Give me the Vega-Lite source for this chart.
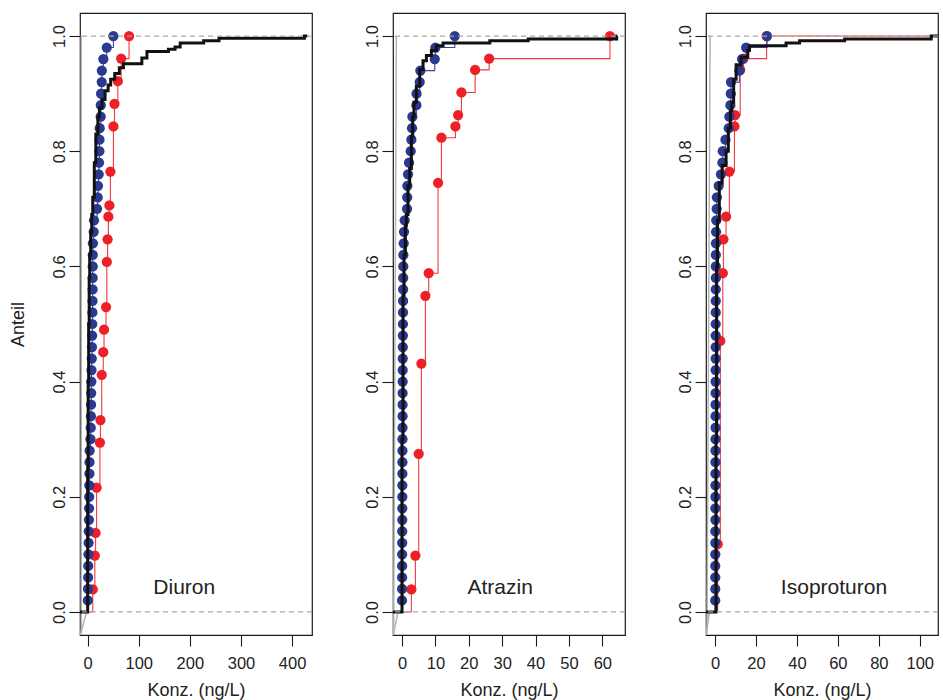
{
"$schema": "https://vega.github.io/schema/vega-lite/v6.json",
"background": "white",
"padding": {"top": 12, "left": 8, "right": 0, "bottom": 0},
"spacing": 49,
"config": {
  "font": "Liberation Sans",
  "view": {"stroke": "#1a1a1a", "strokeWidth": 1.2},
  "axis": {"grid": false, "domain": false, "tickSize": 11, "tickColor": "#1a1a1a", "tickWidth": 1.1,
    "labelFont": "Liberation Sans", "labelFontSize": 16.5, "labelColor": "#222",
    "titleFont": "Liberation Sans", "titleFontSize": 18, "titleFontWeight": "normal", "titleColor": "#222",
    "labelFlush": false, "labelOverlap": false, "labelBound": false},
  "axisX": {"labelPadding": 9, "titlePadding": 10, "labelOverlap": false},
  "axisY": {"labelAngle": -90, "labelAlign": "center", "labelBaseline": "alphabetic", "labelPadding": 5, "titlePadding": 10, "labelOverlap": false}
},
"datasets": {
"g1": [{"x":-12.5,"y":-0.04,"g":"a","o":1},{"x":-12.5,"y":1.0,"g":"a","o":2},{"x":-14.5,"y":-0.04,"g":"b","o":1},{"x":-2,"y":0,"g":"b","o":2}],
"g2": [{"x":-2.5,"y":-0.04,"g":"a","o":1},{"x":-1.7,"y":1.0,"g":"a","o":2},{"x":-2.6,"y":-0.04,"g":"b","o":1},{"x":-1.2,"y":0,"g":"b","o":2}],
"g3": [{"x":-3.9,"y":-0.04,"g":"a","o":1},{"x":-2.4,"y":1.0,"g":"a","o":2},{"x":-4.3,"y":-0.04,"g":"b","o":1},{"x":-2.7,"y":0,"g":"b","o":2}],
"k1": [{"x":-15,"y":0},{"x":0,"y":0.25},{"x":1,"y":0.4},{"x":2,"y":0.5},{"x":3,"y":0.58},{"x":4,"y":0.62},{"x":6,"y":0.66},{"x":8,"y":0.69},{"x":10,"y":0.72},{"x":13,"y":0.78},{"x":16,"y":0.83},{"x":20,"y":0.86},{"x":23,"y":0.875},{"x":28,"y":0.89},{"x":34,"y":0.905},{"x":40,"y":0.915},{"x":45,"y":0.925},{"x":53,"y":0.935},{"x":62,"y":0.945},{"x":70,"y":0.952},{"x":106,"y":0.962},{"x":116,"y":0.973},{"x":158,"y":0.977},{"x":171,"y":0.981},{"x":181,"y":0.988},{"x":227,"y":0.992},{"x":257,"y":0.996},{"x":424,"y":1.0},{"x":430,"y":1.0}],
"k2": [{"x":-2.7,"y":0},{"x":0,"y":0.3},{"x":0.3,"y":0.55},{"x":0.6,"y":0.62},{"x":1.0,"y":0.67},{"x":1.3,"y":0.69},{"x":1.8,"y":0.74},{"x":2.3,"y":0.77},{"x":2.8,"y":0.826},{"x":3.2,"y":0.86},{"x":3.6,"y":0.885},{"x":4.3,"y":0.913},{"x":5.3,"y":0.942},{"x":6.3,"y":0.957},{"x":7.3,"y":0.966},{"x":8.8,"y":0.975},{"x":10.3,"y":0.983},{"x":12.3,"y":0.988},{"x":26.3,"y":0.992},{"x":37.8,"y":0.995},{"x":64.3,"y":1.0},{"x":64.5,"y":1.0}],
"k3": [{"x":-4.4,"y":0},{"x":0.5,"y":0.3},{"x":0.8,"y":0.6},{"x":1.2,"y":0.68},{"x":2.1,"y":0.745},{"x":3.5,"y":0.775},{"x":5.4,"y":0.8},{"x":6.5,"y":0.84},{"x":7.5,"y":0.87},{"x":8.2,"y":0.885},{"x":9.1,"y":0.925},{"x":10.3,"y":0.95},{"x":12.7,"y":0.963},{"x":16,"y":0.975},{"x":16.8,"y":0.983},{"x":34.7,"y":0.988},{"x":41.3,"y":0.992},{"x":63.3,"y":0.995},{"x":105.6,"y":1.0},{"x":108.9,"y":1.0}],
"b1": [{"x":-15,"y":0,"pt":0},{"x":0.3,"y":0.02,"pt":1},{"x":0.6,"y":0.04,"pt":1},{"x":0.9,"y":0.06,"pt":1},{"x":1.2,"y":0.08,"pt":1},{"x":1.5,"y":0.1,"pt":1},{"x":1.8,"y":0.12,"pt":1},{"x":2.1,"y":0.14,"pt":1},{"x":2.4,"y":0.16,"pt":1},{"x":2.7,"y":0.18,"pt":1},{"x":3.0,"y":0.2,"pt":1},{"x":3.2,"y":0.22,"pt":1},{"x":3.4,"y":0.24,"pt":1},{"x":3.6,"y":0.26,"pt":1},{"x":3.8,"y":0.28,"pt":1},{"x":5.5,"y":0.3,"pt":1},{"x":6.0,"y":0.32,"pt":1},{"x":6.3,"y":0.34,"pt":1},{"x":6.6,"y":0.36,"pt":1},{"x":6.9,"y":0.38,"pt":1},{"x":7.2,"y":0.4,"pt":1},{"x":7.5,"y":0.42,"pt":1},{"x":8.0,"y":0.44,"pt":1},{"x":8.4,"y":0.46,"pt":1},{"x":8.7,"y":0.48,"pt":1},{"x":9.0,"y":0.5,"pt":1},{"x":9.3,"y":0.52,"pt":1},{"x":9.5,"y":0.54,"pt":1},{"x":9.7,"y":0.56,"pt":1},{"x":9.8,"y":0.58,"pt":1},{"x":9.9,"y":0.6,"pt":1},{"x":10.0,"y":0.62,"pt":1},{"x":10.2,"y":0.64,"pt":1},{"x":11.8,"y":0.66,"pt":1},{"x":12.4,"y":0.68,"pt":1},{"x":18.3,"y":0.7,"pt":1},{"x":19.6,"y":0.72,"pt":1},{"x":20.2,"y":0.74,"pt":1},{"x":21.5,"y":0.76,"pt":1},{"x":22.2,"y":0.78,"pt":1},{"x":22.9,"y":0.8,"pt":1},{"x":23.1,"y":0.82,"pt":1},{"x":23.5,"y":0.84,"pt":1},{"x":25.5,"y":0.86,"pt":1},{"x":25.7,"y":0.88,"pt":1},{"x":26.2,"y":0.9,"pt":1},{"x":27.5,"y":0.92,"pt":1},{"x":27.7,"y":0.94,"pt":1},{"x":30.7,"y":0.96,"pt":1},{"x":37.3,"y":0.98,"pt":1},{"x":50.3,"y":1.0,"pt":1}],
"b2": [{"x":-2.7,"y":0,"pt":0},{"x":0.0,"y":0.02,"pt":1},{"x":0.01,"y":0.04,"pt":1},{"x":0.02,"y":0.06,"pt":1},{"x":0.03,"y":0.08,"pt":1},{"x":0.04,"y":0.1,"pt":1},{"x":0.05,"y":0.12,"pt":1},{"x":0.06,"y":0.14,"pt":1},{"x":0.07,"y":0.16,"pt":1},{"x":0.08,"y":0.18,"pt":1},{"x":0.09,"y":0.2,"pt":1},{"x":0.1,"y":0.22,"pt":1},{"x":0.11,"y":0.24,"pt":1},{"x":0.12,"y":0.26,"pt":1},{"x":0.13,"y":0.28,"pt":1},{"x":0.14,"y":0.3,"pt":1},{"x":0.15,"y":0.32,"pt":1},{"x":0.16,"y":0.34,"pt":1},{"x":0.17,"y":0.36,"pt":1},{"x":0.18,"y":0.38,"pt":1},{"x":0.19,"y":0.4,"pt":1},{"x":0.2,"y":0.42,"pt":1},{"x":0.22,"y":0.44,"pt":1},{"x":0.24,"y":0.46,"pt":1},{"x":0.26,"y":0.48,"pt":1},{"x":0.28,"y":0.5,"pt":1},{"x":0.3,"y":0.52,"pt":1},{"x":0.32,"y":0.54,"pt":1},{"x":0.34,"y":0.56,"pt":1},{"x":0.36,"y":0.58,"pt":1},{"x":0.38,"y":0.6,"pt":1},{"x":0.4,"y":0.62,"pt":1},{"x":0.5,"y":0.64,"pt":1},{"x":0.6,"y":0.66,"pt":1},{"x":0.8,"y":0.68,"pt":1},{"x":1.5,"y":0.7,"pt":1},{"x":1.55,"y":0.72,"pt":1},{"x":1.6,"y":0.74,"pt":1},{"x":1.8,"y":0.76,"pt":1},{"x":2.1,"y":0.78,"pt":1},{"x":2.6,"y":0.8,"pt":1},{"x":2.8,"y":0.82,"pt":1},{"x":3.0,"y":0.84,"pt":1},{"x":3.1,"y":0.86,"pt":1},{"x":4.3,"y":0.88,"pt":1},{"x":4.35,"y":0.9,"pt":1},{"x":5.3,"y":0.92,"pt":1},{"x":5.5,"y":0.94,"pt":1},{"x":9.8,"y":0.96,"pt":1},{"x":10.0,"y":0.98,"pt":1},{"x":15.8,"y":1.0,"pt":1}],
"b3": [{"x":-4.4,"y":0,"pt":0},{"x":0.1,"y":0.02,"pt":1},{"x":0.11,"y":0.04,"pt":1},{"x":0.12,"y":0.06,"pt":1},{"x":0.13,"y":0.08,"pt":1},{"x":0.14,"y":0.1,"pt":1},{"x":0.15,"y":0.12,"pt":1},{"x":0.16,"y":0.14,"pt":1},{"x":0.17,"y":0.16,"pt":1},{"x":0.18,"y":0.18,"pt":1},{"x":0.19,"y":0.2,"pt":1},{"x":0.2,"y":0.22,"pt":1},{"x":0.21,"y":0.24,"pt":1},{"x":0.22,"y":0.26,"pt":1},{"x":0.23,"y":0.28,"pt":1},{"x":0.24,"y":0.3,"pt":1},{"x":0.25,"y":0.32,"pt":1},{"x":0.26,"y":0.34,"pt":1},{"x":0.27,"y":0.36,"pt":1},{"x":0.28,"y":0.38,"pt":1},{"x":0.29,"y":0.4,"pt":1},{"x":0.3,"y":0.42,"pt":1},{"x":0.31,"y":0.44,"pt":1},{"x":0.32,"y":0.46,"pt":1},{"x":0.33,"y":0.48,"pt":1},{"x":0.34,"y":0.5,"pt":1},{"x":0.35,"y":0.52,"pt":1},{"x":0.36,"y":0.54,"pt":1},{"x":0.37,"y":0.56,"pt":1},{"x":0.38,"y":0.58,"pt":1},{"x":0.39,"y":0.6,"pt":1},{"x":0.4,"y":0.62,"pt":1},{"x":0.45,"y":0.64,"pt":1},{"x":0.5,"y":0.66,"pt":1},{"x":0.6,"y":0.68,"pt":1},{"x":0.8,"y":0.7,"pt":1},{"x":0.9,"y":0.72,"pt":1},{"x":1.8,"y":0.74,"pt":1},{"x":2.9,"y":0.76,"pt":1},{"x":3.6,"y":0.78,"pt":1},{"x":3.8,"y":0.8,"pt":1},{"x":5.1,"y":0.82,"pt":1},{"x":6.7,"y":0.84,"pt":1},{"x":7.0,"y":0.86,"pt":1},{"x":7.5,"y":0.88,"pt":1},{"x":7.7,"y":0.9,"pt":1},{"x":7.8,"y":0.92,"pt":1},{"x":11.9,"y":0.94,"pt":1},{"x":13.2,"y":0.96,"pt":1},{"x":15.2,"y":0.98,"pt":1},{"x":25.4,"y":1.0,"pt":1}],
"r1": [{"x":-15,"y":0,"pt":0},{"x":10,"y":0.0392,"pt":1},{"x":14,"y":0.098,"pt":1},{"x":15.5,"y":0.1373,"pt":1},{"x":17.5,"y":0.2157,"pt":1},{"x":24,"y":0.2941,"pt":1},{"x":25,"y":0.3333,"pt":1},{"x":27.5,"y":0.4118,"pt":1},{"x":30.5,"y":0.451,"pt":1},{"x":32,"y":0.4902,"pt":1},{"x":36,"y":0.5294,"pt":1},{"x":37.5,"y":0.6078,"pt":1},{"x":39,"y":0.6471,"pt":1},{"x":40.5,"y":0.6863,"pt":1},{"x":42.5,"y":0.7059,"pt":1},{"x":44.5,"y":0.7647,"pt":1},{"x":50.4,"y":0.8431,"pt":1},{"x":52.5,"y":0.8824,"pt":1},{"x":59,"y":0.9216,"pt":1},{"x":65.5,"y":0.9608,"pt":1},{"x":81,"y":1.0,"pt":1}],
"r2": [{"x":-2.7,"y":0,"pt":0},{"x":2.8,"y":0.0392,"pt":1},{"x":4.0,"y":0.098,"pt":1},{"x":5.0,"y":0.2745,"pt":1},{"x":5.8,"y":0.4314,"pt":1},{"x":7.0,"y":0.549,"pt":1},{"x":8.0,"y":0.5882,"pt":1},{"x":10.8,"y":0.7451,"pt":1},{"x":11.8,"y":0.8235,"pt":1},{"x":16.0,"y":0.8431,"pt":1},{"x":16.8,"y":0.8627,"pt":1},{"x":17.8,"y":0.902,"pt":1},{"x":21.9,"y":0.9412,"pt":1},{"x":26.1,"y":0.9608,"pt":1},{"x":62.3,"y":1.0,"pt":1}],
"r3": [{"x":-4.4,"y":0,"pt":0},{"x":1.3,"y":0.1176,"pt":1},{"x":2.6,"y":0.4706,"pt":1},{"x":3.8,"y":0.5882,"pt":1},{"x":4.1,"y":0.6471,"pt":1},{"x":5.4,"y":0.6863,"pt":1},{"x":7.0,"y":0.7647,"pt":1},{"x":9.5,"y":0.8431,"pt":1},{"x":9.8,"y":0.8627,"pt":1},{"x":12.3,"y":0.9412,"pt":1},{"x":13.9,"y":0.9608,"pt":1},{"x":25.2,"y":1.0,"pt":1},{"x":108.9,"y":1.0,"pt":0}]
},
"hconcat": [
{
  "width": 232, "height": 622,
  "layer": [
    {"data": {"name": "g1"}, "mark": {"type": "line", "color": "#b5b5b5", "strokeWidth": 1.5, "clip": true},
     "encoding": {
       "x": {"field": "x", "type": "quantitative", "title": "Konz. (ng/L)", "scale": {"domain": [-15, 439], "nice": false, "zero": false}, "axis": {"values": [0, 100, 200, 300, 400], "format": "d", "labelOverlap": false}},
       "y": {"field": "y", "type": "quantitative", "title": "Anteil", "scale": {"domain": [-0.04, 1.04], "nice": false, "zero": false}, "axis": {"values": [0, 0.2, 0.4, 0.6, 0.8, 1], "format": ".1f", "titlePadding": 24, "labelOverlap": false}},
       "detail": {"field": "g"}, "order": {"field": "o"}}},
    {"data": {"name": "r1"}, "mark": {"type": "line", "interpolate": "step-after", "color": "#ee3b3f", "strokeWidth": 1.1, "clip": true},
     "encoding": {"x": {"field": "x", "type": "quantitative", "title": "Konz. (ng/L)"}, "y": {"field": "y", "type": "quantitative", "title": "Anteil"}}},
    {"data": {"name": "r1"}, "transform": [{"filter": "datum.pt == 1"}], "mark": {"type": "circle", "color": "#ed2027", "size": 105, "opacity": 1},
     "encoding": {"x": {"field": "x", "type": "quantitative", "title": "Konz. (ng/L)"}, "y": {"field": "y", "type": "quantitative", "title": "Anteil"}}},
    {"data": {"name": "b1"}, "mark": {"type": "line", "interpolate": "step-after", "color": "#3a47a0", "strokeWidth": 1.1, "clip": true},
     "encoding": {"x": {"field": "x", "type": "quantitative", "title": "Konz. (ng/L)"}, "y": {"field": "y", "type": "quantitative", "title": "Anteil"}}},
    {"data": {"name": "b1"}, "transform": [{"filter": "datum.pt == 1"}], "mark": {"type": "circle", "color": "#2b3990", "size": 105, "opacity": 1},
     "encoding": {"x": {"field": "x", "type": "quantitative", "title": "Konz. (ng/L)"}, "y": {"field": "y", "type": "quantitative", "title": "Anteil"}}},
    {"data": {"name": "k1"}, "mark": {"type": "line", "interpolate": "step-after", "color": "#111111", "strokeWidth": 3, "clip": true},
     "encoding": {"x": {"field": "x", "type": "quantitative", "title": "Konz. (ng/L)"}, "y": {"field": "y", "type": "quantitative", "title": "Anteil"}}},
    {"data": {"values": [{"h": 0}, {"h": 1}]}, "mark": {"type": "rule", "color": "#a8a8a8", "strokeDash": [5, 4], "strokeWidth": 1.2},
     "encoding": {"y": {"field": "h", "type": "quantitative", "title": "Anteil"}}},
    {"data": {"values": [{"x": 189, "y": 0.042, "label": "Diuron"}]}, "mark": {"type": "text", "fontSize": 21, "font": "Liberation Sans", "color": "#222", "align": "center", "baseline": "middle"},
     "encoding": {"x": {"field": "x", "type": "quantitative", "title": "Konz. (ng/L)"}, "y": {"field": "y", "type": "quantitative", "title": "Anteil"}, "text": {"field": "label"}}}
  ]
},
{
  "width": 232, "height": 622,
  "layer": [
    {"data": {"name": "g2"}, "mark": {"type": "line", "color": "#b5b5b5", "strokeWidth": 1.5, "clip": true},
     "encoding": {
       "x": {"field": "x", "type": "quantitative", "title": "Konz. (ng/L)", "scale": {"domain": [-2.7, 66.8], "nice": false, "zero": false}, "axis": {"values": [0, 10, 20, 30, 40, 50, 60], "tickCount": 7, "format": "d", "labelOverlap": false}},
       "y": {"field": "y", "type": "quantitative", "title": null, "scale": {"domain": [-0.04, 1.04], "nice": false, "zero": false}, "axis": {"values": [0, 0.2, 0.4, 0.6, 0.8, 1], "format": ".1f", "labelOverlap": false}},
       "detail": {"field": "g"}, "order": {"field": "o"}}},
    {"data": {"name": "r2"}, "mark": {"type": "line", "interpolate": "step-after", "color": "#ee3b3f", "strokeWidth": 1.1, "clip": true},
     "encoding": {"x": {"field": "x", "type": "quantitative", "title": "Konz. (ng/L)", "axis": {"values": [0, 10, 20, 30, 40, 50, 60], "tickCount": 7, "format": "d", "labelOverlap": false}}, "y": {"field": "y", "type": "quantitative", "title": null}}},
    {"data": {"name": "r2"}, "transform": [{"filter": "datum.pt == 1"}], "mark": {"type": "circle", "color": "#ed2027", "size": 105, "opacity": 1},
     "encoding": {"x": {"field": "x", "type": "quantitative", "title": "Konz. (ng/L)", "axis": {"values": [0, 10, 20, 30, 40, 50, 60], "tickCount": 7, "format": "d", "labelOverlap": false}}, "y": {"field": "y", "type": "quantitative", "title": null}}},
    {"data": {"name": "b2"}, "mark": {"type": "line", "interpolate": "step-after", "color": "#3a47a0", "strokeWidth": 1.1, "clip": true},
     "encoding": {"x": {"field": "x", "type": "quantitative", "title": "Konz. (ng/L)", "axis": {"values": [0, 10, 20, 30, 40, 50, 60], "tickCount": 7, "format": "d", "labelOverlap": false}}, "y": {"field": "y", "type": "quantitative", "title": null}}},
    {"data": {"name": "b2"}, "transform": [{"filter": "datum.pt == 1"}], "mark": {"type": "circle", "color": "#2b3990", "size": 105, "opacity": 1},
     "encoding": {"x": {"field": "x", "type": "quantitative", "title": "Konz. (ng/L)", "axis": {"values": [0, 10, 20, 30, 40, 50, 60], "tickCount": 7, "format": "d", "labelOverlap": false}}, "y": {"field": "y", "type": "quantitative", "title": null}}},
    {"data": {"name": "k2"}, "mark": {"type": "line", "interpolate": "step-after", "color": "#111111", "strokeWidth": 3, "clip": true},
     "encoding": {"x": {"field": "x", "type": "quantitative", "title": "Konz. (ng/L)", "axis": {"values": [0, 10, 20, 30, 40, 50, 60], "tickCount": 7, "format": "d", "labelOverlap": false}}, "y": {"field": "y", "type": "quantitative", "title": null}}},
    {"data": {"values": [{"h": 0}, {"h": 1}]}, "mark": {"type": "rule", "color": "#a8a8a8", "strokeDash": [5, 4], "strokeWidth": 1.2},
     "encoding": {"y": {"field": "h", "type": "quantitative", "title": null}}},
    {"data": {"values": [{"x": 29.4, "y": 0.042, "label": "Atrazin"}]}, "mark": {"type": "text", "fontSize": 21, "font": "Liberation Sans", "color": "#222", "align": "center", "baseline": "middle"},
     "encoding": {"x": {"field": "x", "type": "quantitative", "title": "Konz. (ng/L)", "axis": {"values": [0, 10, 20, 30, 40, 50, 60], "tickCount": 7, "format": "d", "labelOverlap": false}}, "y": {"field": "y", "type": "quantitative", "title": null}, "text": {"field": "label"}}}
  ]
},
{
  "width": 232, "height": 622,
  "layer": [
    {"data": {"name": "g3"}, "mark": {"type": "line", "color": "#b5b5b5", "strokeWidth": 1.5, "clip": true},
     "encoding": {
       "x": {"field": "x", "type": "quantitative", "title": "Konz. (ng/L)", "scale": {"domain": [-4.4, 108.9], "nice": false, "zero": false}, "axis": {"values": [0, 20, 40, 60, 80, 100], "format": "d", "labelOverlap": false}},
       "y": {"field": "y", "type": "quantitative", "title": null, "scale": {"domain": [-0.04, 1.04], "nice": false, "zero": false}, "axis": {"values": [0, 0.2, 0.4, 0.6, 0.8, 1], "format": ".1f", "labelOverlap": false}},
       "detail": {"field": "g"}, "order": {"field": "o"}}},
    {"data": {"name": "r3"}, "mark": {"type": "line", "interpolate": "step-after", "color": "#ee3b3f", "strokeWidth": 1.1, "clip": true},
     "encoding": {"x": {"field": "x", "type": "quantitative", "title": "Konz. (ng/L)"}, "y": {"field": "y", "type": "quantitative", "title": null}}},
    {"data": {"name": "r3"}, "transform": [{"filter": "datum.pt == 1"}], "mark": {"type": "circle", "color": "#ed2027", "size": 105, "opacity": 1},
     "encoding": {"x": {"field": "x", "type": "quantitative", "title": "Konz. (ng/L)"}, "y": {"field": "y", "type": "quantitative", "title": null}}},
    {"data": {"name": "b3"}, "mark": {"type": "line", "interpolate": "step-after", "color": "#3a47a0", "strokeWidth": 1.1, "clip": true},
     "encoding": {"x": {"field": "x", "type": "quantitative", "title": "Konz. (ng/L)"}, "y": {"field": "y", "type": "quantitative", "title": null}}},
    {"data": {"name": "b3"}, "transform": [{"filter": "datum.pt == 1"}], "mark": {"type": "circle", "color": "#2b3990", "size": 105, "opacity": 1},
     "encoding": {"x": {"field": "x", "type": "quantitative", "title": "Konz. (ng/L)"}, "y": {"field": "y", "type": "quantitative", "title": null}}},
    {"data": {"name": "k3"}, "mark": {"type": "line", "interpolate": "step-after", "color": "#111111", "strokeWidth": 3, "clip": true},
     "encoding": {"x": {"field": "x", "type": "quantitative", "title": "Konz. (ng/L)"}, "y": {"field": "y", "type": "quantitative", "title": null}}},
    {"data": {"values": [{"h": 0}, {"h": 1}]}, "mark": {"type": "rule", "color": "#a8a8a8", "strokeDash": [5, 4], "strokeWidth": 1.2},
     "encoding": {"y": {"field": "h", "type": "quantitative", "title": null}}},
    {"data": {"values": [{"x": 58.1, "y": 0.042, "label": "Isoproturon"}]}, "mark": {"type": "text", "fontSize": 21, "font": "Liberation Sans", "color": "#222", "align": "center", "baseline": "middle"},
     "encoding": {"x": {"field": "x", "type": "quantitative", "title": "Konz. (ng/L)"}, "y": {"field": "y", "type": "quantitative", "title": null}, "text": {"field": "label"}}}
  ]
}
]
}
